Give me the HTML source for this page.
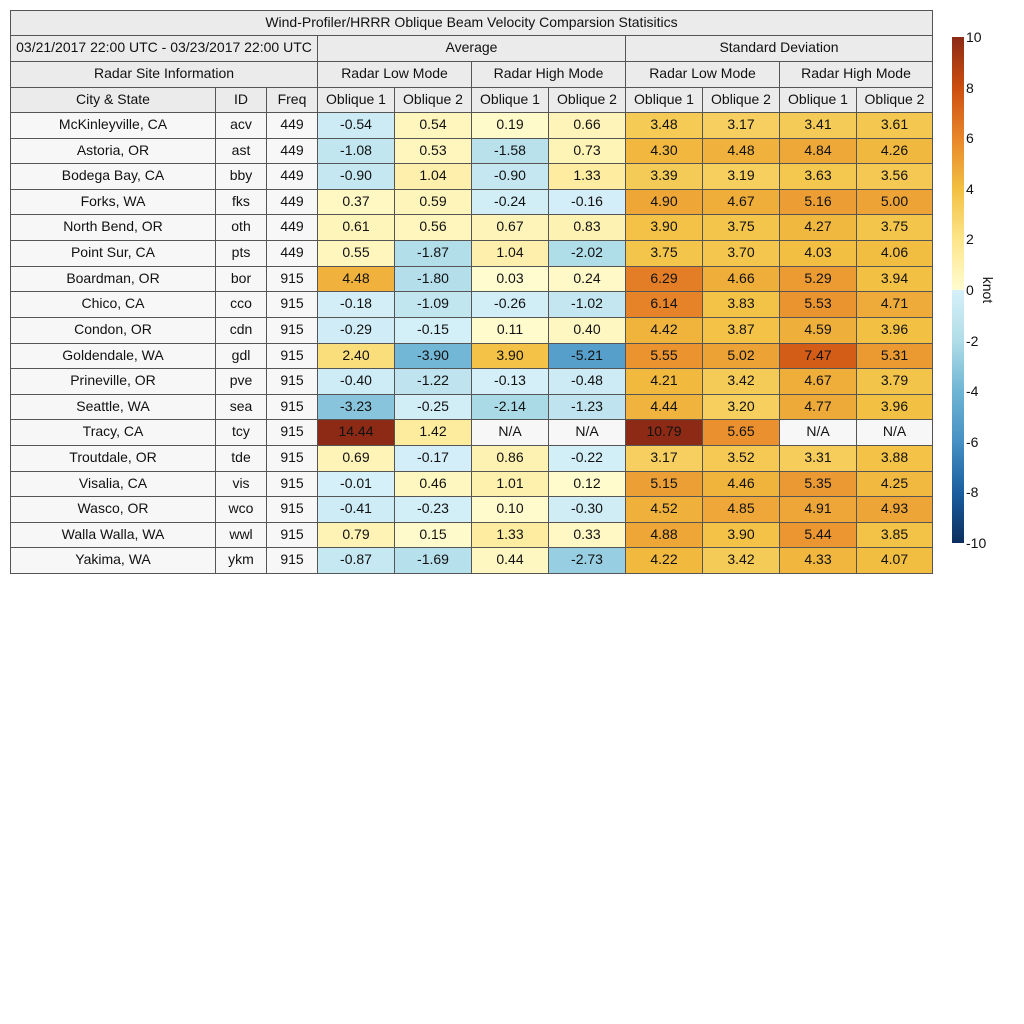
<!DOCTYPE html><html><head><meta charset="utf-8"><style>
body{margin:0;width:1024px;height:1024px;background:#fff;position:relative;font-family:"Liberation Sans",sans-serif;font-size:14px;color:#111;overflow:hidden}
.c{position:absolute;box-sizing:border-box;border:1px solid #555;display:flex;align-items:center;justify-content:center;white-space:nowrap;padding-bottom:3px}
.t{position:absolute;font-size:14px}
</style></head><body><div id="r"></div>
<script>
const R=document.getElementById('r');
function cell(x,y,w,h,txt,bg){const d=document.createElement('div');d.className='c';d.style.cssText=`left:${x}px;top:${y}px;width:${w+1}px;height:${h+1}px;background:${bg}`;d.textContent=txt;R.appendChild(d);}
const X=[10,215,266,317,394,471,548,625,702,779,856,932];
const H='#ebebeb';
cell(10,10,922,25,'Wind-Profiler/HRRR Oblique Beam Velocity Comparsion Statisitics',H);
cell(10,35,307,26,'03/21/2017 22:00 UTC - 03/23/2017 22:00 UTC',H);
cell(317,35,308,26,'Average',H);cell(625,35,307,26,'Standard Deviation',H);
cell(10,61,307,26,'Radar Site Information',H);
['Radar Low Mode','Radar High Mode','Radar Low Mode','Radar High Mode'].forEach((s,i)=>cell(X[3+2*i],61,X[5+2*i]-X[3+2*i],26,s,H));
['City & State','ID','Freq','Oblique 1','Oblique 2','Oblique 1','Oblique 2','Oblique 1','Oblique 2','Oblique 1','Oblique 2'].forEach((s,i)=>cell(X[i],87,X[i+1]-X[i],25,s,H));
const P=[[0,[255,252,208]],[2,[253,229,138]],[4,[242,192,66]],[6,[232,134,42]],[8,[204,78,16]],[10,[140,42,22]]];
const N=[[0,[214,240,249]],[2,[176,221,232]],[4,[111,181,212]],[6,[70,144,196]],[8,[27,94,160]],[10,[12,46,94]]];
function col(v){if(v===null)return'#f7f7f7';const s=v<0?N:P;let a=Math.min(Math.abs(v),10);for(let i=0;i<5;i++){if(a<=s[i+1][0]){const f=(a-s[i][0])/2;const c=s[i][1].map((q,k)=>Math.round(q+(s[i+1][1][k]-q)*f));return`rgb(${c})`;}}}
const D=[["McKinleyville, CA","acv",449,-0.54,0.54,0.19,0.66,3.48,3.17,3.41,3.61],
["Astoria, OR","ast",449,-1.08,0.53,-1.58,0.73,4.30,4.48,4.84,4.26],
["Bodega Bay, CA","bby",449,-0.90,1.04,-0.90,1.33,3.39,3.19,3.63,3.56],
["Forks, WA","fks",449,0.37,0.59,-0.24,-0.16,4.90,4.67,5.16,5.00],
["North Bend, OR","oth",449,0.61,0.56,0.67,0.83,3.90,3.75,4.27,3.75],
["Point Sur, CA","pts",449,0.55,-1.87,1.04,-2.02,3.75,3.70,4.03,4.06],
["Boardman, OR","bor",915,4.48,-1.80,0.03,0.24,6.29,4.66,5.29,3.94],
["Chico, CA","cco",915,-0.18,-1.09,-0.26,-1.02,6.14,3.83,5.53,4.71],
["Condon, OR","cdn",915,-0.29,-0.15,0.11,0.40,4.42,3.87,4.59,3.96],
["Goldendale, WA","gdl",915,2.40,-3.90,3.90,-5.21,5.55,5.02,7.47,5.31],
["Prineville, OR","pve",915,-0.40,-1.22,-0.13,-0.48,4.21,3.42,4.67,3.79],
["Seattle, WA","sea",915,-3.23,-0.25,-2.14,-1.23,4.44,3.20,4.77,3.96],
["Tracy, CA","tcy",915,14.44,1.42,null,null,10.79,5.65,null,null],
["Troutdale, OR","tde",915,0.69,-0.17,0.86,-0.22,3.17,3.52,3.31,3.88],
["Visalia, CA","vis",915,-0.01,0.46,1.01,0.12,5.15,4.46,5.35,4.25],
["Wasco, OR","wco",915,-0.41,-0.23,0.10,-0.30,4.52,4.85,4.91,4.93],
["Walla Walla, WA","wwl",915,0.79,0.15,1.33,0.33,4.88,3.90,5.44,3.85],
["Yakima, WA","ykm",915,-0.87,-1.69,0.44,-2.73,4.22,3.42,4.33,4.07]];
const rh=(573-112)/18;
D.forEach((r,j)=>{const y=Math.round(112+j*rh),h=Math.round(112+(j+1)*rh)-y;
r.forEach((v,i)=>{const w=X[i+1]-X[i];if(i<3)cell(X[i],y,w,h,String(v),'#f7f7f7');else cell(X[i],y,w,h,v===null?'N/A':v.toFixed(2),col(v));});});
const cb=document.createElement('div');cb.style.cssText='position:absolute;left:952px;top:37px;width:12px;height:506px;background:linear-gradient(to bottom,rgb(140,42,22),rgb(204,78,16) 10%,rgb(232,134,42) 20%,rgb(242,192,66) 30%,rgb(253,229,138) 40%,rgb(255,252,208) 50%,rgb(214,240,249) 50%,rgb(176,221,232) 60%,rgb(111,181,212) 70%,rgb(70,144,196) 80%,rgb(27,94,160) 90%,rgb(12,46,94))';R.appendChild(cb);
[10,8,6,4,2,0,-2,-4,-6,-8,-10].forEach((v,i)=>{const t=document.createElement('div');t.className='t';t.style.left='966px';t.style.top=(37+i*50.6-8)+'px';t.textContent=v;R.appendChild(t);});
const k=document.createElement('div');k.className='t';k.style.cssText='left:975px;top:282px;transform:rotate(90deg);transform-origin:center';k.textContent='knot';R.appendChild(k);
</script></body></html>
